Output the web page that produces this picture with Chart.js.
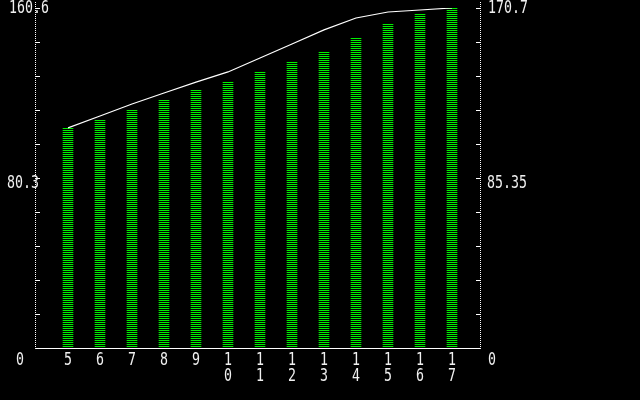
<!DOCTYPE html>
<html>
<head>
<meta charset="utf-8">
<script src="https://cdn.jsdelivr.net/npm/chart.js@4/dist/chart.umd.min.js"></script>
<style>
  html, body { margin: 0; padding: 0; background: #000; }
  #wrap { width: 640px; height: 400px; position: relative; }
</style>
</head>
<body>
<div id="wrap"><canvas id="c" width="640" height="400"></canvas></div>
<script>
// ---- data ----
const categories = [5, 6, 7, 8, 9, 10, 11, 12, 13, 14, 15, 16, 17];
const barValues = [103.9, 107.8, 112.6, 117.3, 121.9, 125.8, 130.4, 135.1, 139.8, 146.6, 153.0, 157.8, 160.6];
const lineValues = [110.5, 116.5, 122.5, 128.0, 133.5, 138.6, 145.6, 152.6, 159.7, 165.7, 168.7, 169.7, 170.7];
const leftTickLabels = ['0', '80.3', '160.6'];
const rightTickLabels = ['0', '85.35', '170.7'];
const leftMax = 160.6;
const rightMax = 170.7;

// ---- styles ----
const GREEN = '#00f000';
const TEXT = '#f0f0f0';

function stripePattern(ctx) {
  const pc = document.createElement('canvas');
  pc.width = 1; pc.height = 2;
  const p = pc.getContext('2d');
  p.fillStyle = GREEN; p.fillRect(0, 0, 1, 1);
  p.fillStyle = '#000'; p.fillRect(0, 1, 1, 1);
  return ctx.createPattern(pc, 'repeat');
}

const canvas = document.getElementById('c');
const ctx0 = canvas.getContext('2d');

function drawText(ctx, str, x, baseline, align) {
  ctx.save();
  ctx.font = '17px "DejaVu Sans Mono"';
  ctx.textBaseline = 'alphabetic';
  ctx.fillStyle = TEXT;
  ctx.translate(x, baseline);
  ctx.scale(0.78, 1);
  ctx.textAlign = align || 'left';
  ctx.fillText(str, 0, 0);
  ctx.restore();
}

const retroAxes = {
  id: 'retroAxes',
  afterDraw(chart) {
    const ctx = chart.ctx;
    const a = chart.chartArea;
    const xs = chart.scales.x, yl = chart.scales.y, yr = chart.scales.y2;
    ctx.save();
    ctx.strokeStyle = '#ffffff';
    ctx.lineWidth = 1;
    // dotted vertical axes
    ctx.setLineDash([1, 1]);
    ctx.beginPath();
    ctx.moveTo(a.left - 0.5, 2); ctx.lineTo(a.left - 0.5, a.bottom);
    ctx.moveTo(a.right + 0.5, 2); ctx.lineTo(a.right + 0.5, a.bottom);
    ctx.stroke();
    ctx.setLineDash([]);
    // solid baseline
    ctx.beginPath();
    ctx.moveTo(a.left - 1, a.bottom + 0.5); ctx.lineTo(a.right + 1, a.bottom + 0.5);
    ctx.stroke();
    // inward tick marks
    ctx.beginPath();
    for (let i = 1; i <= 10; i++) {
      const yL = Math.round(yl.getPixelForValue(leftMax * i / 10)) + 0.5;
      ctx.moveTo(a.left - 1, yL); ctx.lineTo(a.left + 4, yL);
      const yR = Math.round(yr.getPixelForValue(rightMax * i / 10)) + 0.5;
      ctx.moveTo(a.right - 4, yR); ctx.lineTo(a.right + 1, yR);
    }
    ctx.stroke();
    ctx.restore();

    // axis labels (0, mid, max)
    const leftVals = [0, leftMax / 2, leftMax];
    const leftX = [16, 7, 9];
    const rightVals = [0, rightMax / 2, rightMax];
    const rightX = [488, 487, 488];
    const baseOff = [17, 10, 5];
    for (let i = 0; i < 3; i++) {
      const yL = yl.getPixelForValue(leftVals[i]);
      drawText(ctx, leftTickLabels[i], leftX[i], yL + baseOff[i]);
      const yR = yr.getPixelForValue(rightVals[i]);
      drawText(ctx, rightTickLabels[i], rightX[i], yR + baseOff[i]);
    }
    // category labels, digits stacked vertically
    categories.forEach((c) => {
      const x = xs.getPixelForValue(c);
      const s = String(c);
      for (let k = 0; k < s.length; k++) {
        drawText(ctx, s[k], x, a.bottom + 17 + k * 16, 'center');
      }
    });
  }
};

new Chart(canvas, {
  type: 'bar',
  data: {
    datasets: [
      {
        type: 'line',
        data: categories.map((c, i) => ({ x: c, y: lineValues[i] })),
        yAxisID: 'y2',
        xAxisID: 'x',
        borderColor: '#ffffff',
        borderWidth: 1.2,
        pointRadius: 0,
        tension: 0,
        fill: false,
        order: 0
      },
      {
        type: 'bar',
        data: categories.map((c, i) => ({ x: c, y: barValues[i] })),
        yAxisID: 'y',
        xAxisID: 'x',
        backgroundColor: stripePattern(ctx0),
        borderWidth: 0,
        barThickness: 10,
        order: 1
      }
    ]
  },
  options: {
    responsive: false,
    animation: false,
    events: [],
    layout: { padding: { left: 36, right: 160, top: 8, bottom: 52 } },
    plugins: { legend: { display: false }, tooltip: { enabled: false } },
    scales: {
      x: { type: 'linear', min: 4, max: 17.875, offset: false, display: false },
      y: { type: 'linear', min: 0, max: leftMax, display: false },
      y2: { type: 'linear', min: 0, max: rightMax, display: false, position: 'right' }
    }
  },
  plugins: [retroAxes]
});
</script>
</body>
</html>
